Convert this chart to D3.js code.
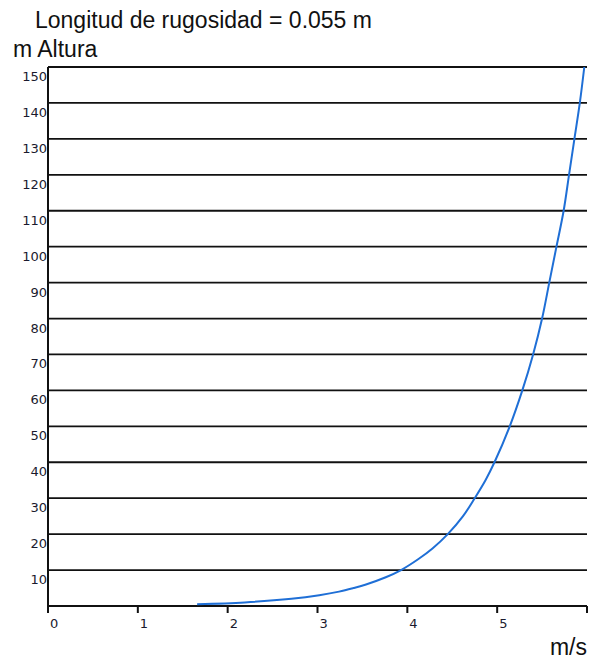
<!DOCTYPE html>
<html>
<head>
<meta charset="utf-8">
<script src="https://cdn.jsdelivr.net/npm/d3@7"></script>
<style>
	body { margin: 0; background: #fff; }
	svg { display: block; }
	.big { font-family: "Liberation Sans", Arial, sans-serif; font-size: 23px; fill: #111; }
	.tick { font-family: "DejaVu Sans", Tahoma, sans-serif; font-size: 13px; fill: #1a1a2e; }
</style>
</head>
<body>
<svg id="chart" width="596" height="661"></svg>
<script>

// wind profile, roughness length 0.055 m
var heights = [0.5, 1, 2, 3, 4, 5, 6, 8, 10, 13, 16, 20, 25, 30, 35, 40, 50, 60, 70, 80, 90, 100, 110, 120, 130, 140, 150];
var speeds = [1.66, 2.19, 2.71, 3.02, 3.24, 3.40, 3.54, 3.76, 3.93, 4.12, 4.28, 4.45, 4.62, 4.75, 4.87, 4.97, 5.14, 5.28, 5.40, 5.50, 5.58, 5.66, 5.74, 5.80, 5.86, 5.92, 5.97];
var yTicks = [10, 20, 30, 40, 50, 60, 70, 80, 90, 100, 110, 120, 130, 140, 150];
var xTicks = [0, 1, 2, 3, 4, 5, 6];
var xLabels = ['0', '1', '2', '3', '4', '5', ''];

var svg = d3.select('#chart');
var x = d3.scaleLinear().domain([0, 6]).range([48, 587]);
var y = d3.scaleLinear().domain([0, 150]).range([606, 67]);

svg.append('text').attr('class', 'big').attr('x', 35).attr('y', 28).text('Longitud de rugosidad = 0.055 m');
svg.append('text').attr('class', 'big').attr('x', 13).attr('y', 57).text('m Altura');
svg.append('text').attr('class', 'big').attr('x', 587).attr('y', 655).attr('text-anchor', 'end').text('m/s');

// horizontal grid
svg.append('g').selectAll('line').data(yTicks).enter().append('line')
	.attr('x1', x(0)).attr('x2', x(6))
	.attr('y1', function(d) { return y(d); }).attr('y2', function(d) { return y(d); })
	.attr('stroke', '#111').attr('stroke-width', 1.8);

svg.append('g').selectAll('text').data(yTicks).enter().append('text')
	.attr('class', 'tick').attr('text-anchor', 'end')
	.attr('x', x(0) - 1).attr('y', function(d) { return y(d) + 14; })
	.text(function(d) { return d; });

// axes
svg.append('line').attr('x1', x(0)).attr('x2', x(0)).attr('y1', y(150)).attr('y2', y(0)).attr('stroke', '#111').attr('stroke-width', 2);
svg.append('line').attr('x1', x(0)).attr('x2', x(6)).attr('y1', y(0)).attr('y2', y(0)).attr('stroke', '#111').attr('stroke-width', 2);

svg.append('g').selectAll('line').data(xTicks).enter().append('line')
	.attr('x1', function(d) { return x(d); }).attr('x2', function(d) { return x(d); })
	.attr('y1', y(0)).attr('y2', y(0) + 7)
	.attr('stroke', '#111').attr('stroke-width', 2);

svg.append('g').selectAll('text').data(xTicks).enter().append('text')
	.attr('class', 'tick')
	.attr('x', function(d) { return x(d) + 2; }).attr('y', 628)
	.text(function(d, i) { return xLabels[i]; });

// profile curve
var pts = heights.map(function(h, i) { return [speeds[i], h]; });
var line = d3.line().x(function(d) { return x(d[0]); }).y(function(d) { return y(d[1]); }).curve(d3.curveCatmullRom.alpha(0.5));
svg.append('path').datum(pts).attr('d', line)
	.attr('fill', 'none').attr('stroke', '#1f6fd6').attr('stroke-width', 2);

</script>
</body>
</html>
